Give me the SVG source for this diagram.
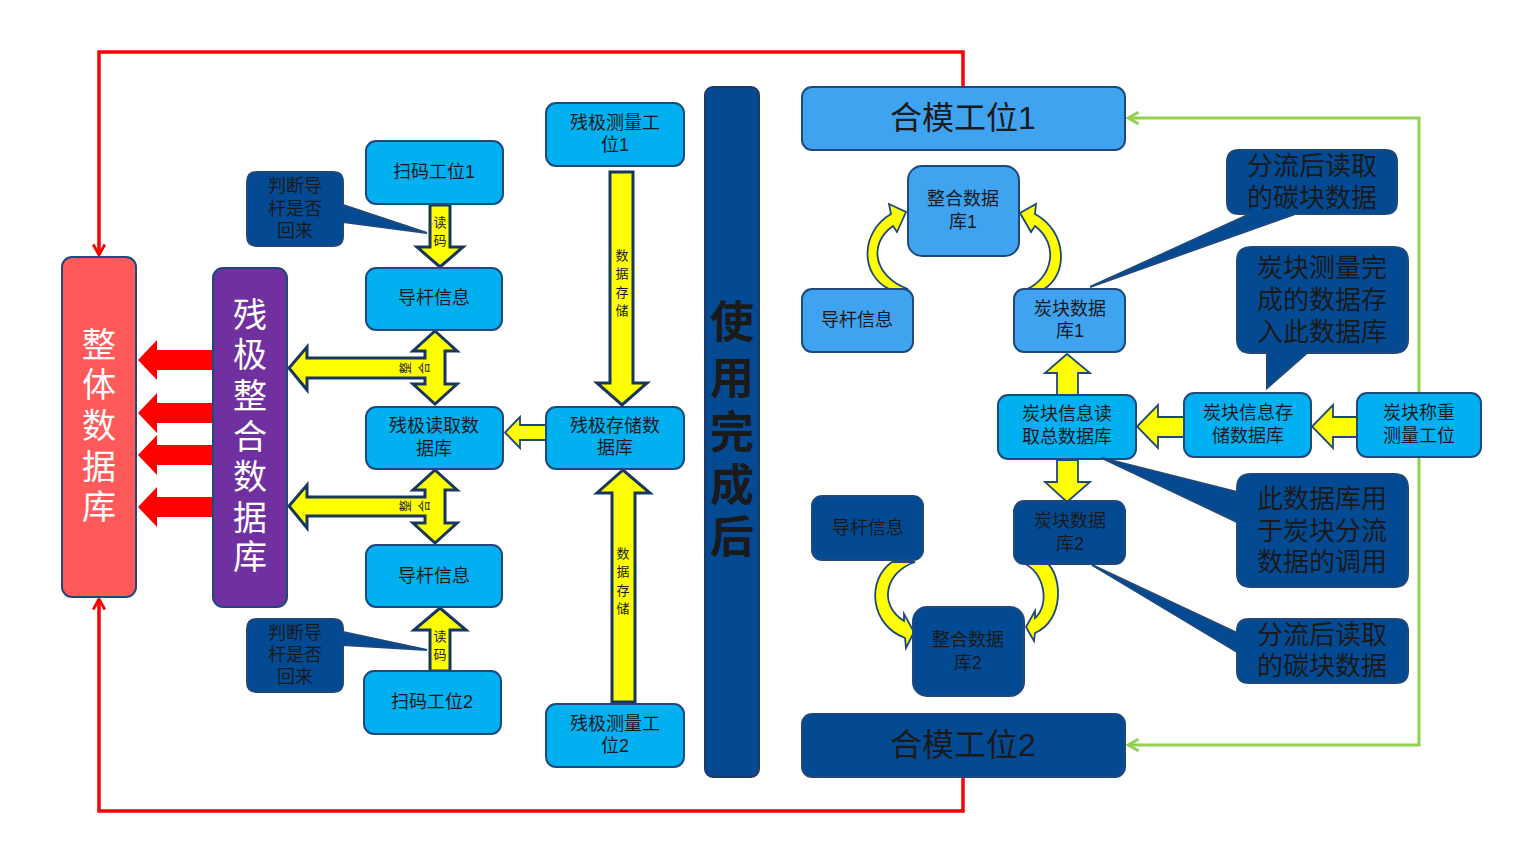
<svg xmlns="http://www.w3.org/2000/svg" width="1519" height="868" viewBox="0 0 1519 868">
<defs>
<style>
.t{font-family:"Liberation Sans","Noto Sans CJK SC",sans-serif;fill:#1a1a1a;text-anchor:middle;dominant-baseline:central}
.w{fill:#ffffff}
.s18{font-size:18px}
.s13{font-size:13px}
.s12{font-size:12px}
.s26{font-size:26px}
.s32{font-size:32px}
.s34{font-size:34px}
.n{stroke:#1F497D;stroke-width:2}
.cy{fill:#00B0F0}
.lb{fill:#3FA3F0}
.db{fill:#034A93}
.ya{fill:#FFFF00;stroke:#17375E;stroke-width:3;stroke-linejoin:miter}
.yt{fill:#FFFF00;stroke:#1F497D;stroke-width:1.8;stroke-linejoin:miter}
.ra{fill:#FF0000}
</style>
<marker id="arrRed" viewBox="0 0 12 12" refX="10.5" refY="6" markerWidth="14" markerHeight="14" orient="auto" markerUnits="userSpaceOnUse">
<path d="M1.5,1 L10.5,6 L1.5,11" fill="none" stroke="#FF0000" stroke-width="2.4"/>
</marker>
<marker id="arrGreen" viewBox="0 0 12 12" refX="10.5" refY="6" markerWidth="14" markerHeight="14" orient="auto" markerUnits="userSpaceOnUse">
<path d="M1.5,1 L10.5,6 L1.5,11" fill="none" stroke="#92D050" stroke-width="2.4"/>
</marker>
</defs>
<rect width="1519" height="868" fill="#ffffff"/>

<g id="connectors">
<path d="M963,87 V52 H99 V255" fill="none" stroke="#FF0000" stroke-width="3.5" marker-end="url(#arrRed)"/>
<path d="M963,777 V811 H99 V599" fill="none" stroke="#FF0000" stroke-width="3.5" marker-end="url(#arrRed)"/>
<path d="M1419,430 V118 H1128" fill="none" stroke="#92D050" stroke-width="3" marker-end="url(#arrGreen)"/>
<path d="M1419,430 V745 H1128" fill="none" stroke="#92D050" stroke-width="3" marker-end="url(#arrGreen)"/>

<polygon class="ra" points="213,350 157,350 157,340 138,360 157,380 157,370 213,370"/>
<polygon class="ra" points="213,403 157,403 157,393 138,413 157,433 157,423 213,423"/>
<polygon class="ra" points="213,445 157,445 157,435 138,455 157,475 157,465 213,465"/>
<polygon class="ra" points="213,497 157,497 157,487 138,507 157,527 157,517 213,517"/>

<polygon class="ya" points="430,205 450,205 450,247 463,247 440,267 417,247 430,247"/>
<text class="t s13" x="440" y="222">读</text>
<text class="t s13" x="440" y="240">码</text>
<polygon class="ya" points="430,671 450,671 450,630 466,630 440,608 414,630 430,630"/>
<text class="t s13" x="440" y="636">读</text>
<text class="t s13" x="440" y="654">码</text>

<polygon class="ya" points="435,331 457,351 445,351 445,384 457,384 435,404 413,384 425,384 425,378 307,378 307,390 289,368 307,347 307,358 425,358 425,351 413,351"/>
<text class="t s12" transform="rotate(-90 406 368)" x="406" y="368">整</text>
<text class="t s12" transform="rotate(-90 425 368)" x="425" y="368">合</text>
<polygon class="ya" points="435,470 457,490 445,490 445,523 457,523 435,543 413,523 425,523 425,516 307,516 307,528 289,506 307,485 307,497 425,497 425,490 413,490"/>
<text class="t s12" transform="rotate(-90 406 506)" x="406" y="506">整</text>
<text class="t s12" transform="rotate(-90 425 506)" x="425" y="506">合</text>

<polygon class="yt" points="546,425 520,425 520,417 505,432.5 520,448 520,440 546,440"/>

<polygon class="ya" points="610,172 633,172 633,383 647,383 622,405 597,383 610,383"/>
<text class="t s13" x="622" y="255">数</text>
<text class="t s13" x="622" y="273">据</text>
<text class="t s13" x="622" y="292">存</text>
<text class="t s13" x="622" y="310">储</text>
<polygon class="ya" points="612,702 635,702 635,493 650,493 623,470 597,493 612,493"/>
<text class="t s13" x="623" y="553">数</text>
<text class="t s13" x="623" y="571">据</text>
<text class="t s13" x="623" y="590">存</text>
<text class="t s13" x="623" y="608">储</text>

<polygon class="yt" points="1057,395 1078,395 1078,373 1090,373 1067,354 1045,373 1057,373"/>
<polygon class="yt" points="1057,460 1078,460 1078,482 1090,482 1067,502 1045,482 1057,482"/>
<polygon class="yt" points="1184,417 1158,417 1158,405 1137,426.5 1158,448 1158,437 1184,437"/>
<polygon class="yt" points="1357,417 1333,417 1333,405 1312,426.5 1333,448 1333,437 1357,437"/>

<path class="yt" d="M908,289 C876,278 866,245 893,226 L897,232 L906,212 L889,204 L891,214 C860,232 860,275 889,289 Z"/>
<path class="yt" d="M1027,289 C1052,278 1060,245 1035,226 L1031,232 L1020,213 L1036,204 L1035,214 C1068,232 1068,275 1044,289 Z"/>
<path class="yt" d="M915,562 C885,572 878,605 904,621 L904,614 L914,632 L906,648 L905,638 C870,625 866,580 892,562 Z"/>
<path class="yt" d="M1023,563 C1045,572 1050,605 1035,618 L1035,611 L1026,627 L1034,641 L1035,633 C1065,620 1062,575 1047,563 Z"/>
</g>

<g id="n-whole-db">
<rect x="62" y="257" width="74" height="340" rx="10" fill="#FF5A5A" stroke="#1F497D" stroke-width="2"/>
<text class="t w s34" x="99" y="345">整</text>
<text class="t w s34" x="99" y="385">体</text>
<text class="t w s34" x="99" y="426">数</text>
<text class="t w s34" x="99" y="467">据</text>
<text class="t w s34" x="99" y="507">库</text>
</g>

<g id="n-anode-db">
<rect x="213" y="268" width="74" height="339" rx="10" fill="#7030A0" stroke="#1F497D" stroke-width="2"/>
<text class="t w s34" x="250" y="315">残</text>
<text class="t w s34" x="250" y="355">极</text>
<text class="t w s34" x="250" y="396">整</text>
<text class="t w s34" x="250" y="437">合</text>
<text class="t w s34" x="250" y="477">数</text>
<text class="t w s34" x="250" y="518">据</text>
<text class="t w s34" x="250" y="557">库</text>
</g>

<g id="n-scan1">
<rect class="n cy" x="366" y="141" width="137" height="63" rx="10"/>
<text class="t s18" x="434" y="172">扫码工位1</text>
</g>
<g id="n-rod1">
<rect class="n cy" x="366" y="268" width="136" height="62" rx="10"/>
<text class="t s18" x="434" y="298">导杆信息</text>
</g>
<g id="n-read-db">
<rect class="n cy" x="366" y="407" width="137" height="62" rx="10"/>
<text class="t s18" x="434" y="426">残极读取数</text>
<text class="t s18" x="434" y="449">据库</text>
</g>
<g id="n-rod2">
<rect class="n cy" x="366" y="545" width="136" height="62" rx="10"/>
<text class="t s18" x="434" y="576">导杆信息</text>
</g>
<g id="n-scan2">
<rect class="n cy" x="364" y="671" width="137" height="63" rx="10"/>
<text class="t s18" x="432" y="702">扫码工位2</text>
</g>

<g id="n-callout-l1">
<path class="n db" d="M257,172 H333 Q343,172 343,182 V205 L427,233 L343,222 V236 Q343,246 333,246 H257 Q247,246 247,236 V182 Q247,172 257,172 Z"/>
<text class="t s18" x="295" y="186">判断导</text>
<text class="t s18" x="295" y="209">杆是否</text>
<text class="t s18" x="295" y="231">回来</text>
</g>
<g id="n-callout-l2">
<path class="n db" d="M257,619 H333 Q343,619 343,629 V632 L427,650 L343,645 V682 Q343,692 333,692 H257 Q247,692 247,682 V629 Q247,619 257,619 Z"/>
<text class="t s18" x="295" y="633">判断导</text>
<text class="t s18" x="295" y="655">杆是否</text>
<text class="t s18" x="295" y="677">回来</text>
</g>

<g id="n-measure1">
<rect class="n cy" x="546" y="103" width="138" height="63" rx="10"/>
<text class="t s18" x="615" y="123">残极测量工</text>
<text class="t s18" x="615" y="145">位1</text>
</g>
<g id="n-store-db">
<rect class="n cy" x="546" y="407" width="138" height="62" rx="10"/>
<text class="t s18" x="615" y="426">残极存储数</text>
<text class="t s18" x="615" y="448">据库</text>
</g>
<g id="n-measure2">
<rect class="n cy" x="546" y="704" width="138" height="63" rx="10"/>
<text class="t s18" x="615" y="724">残极测量工</text>
<text class="t s18" x="615" y="746">位2</text>
</g>

<g id="n-after-use">
<rect x="705" y="87" width="54" height="690" rx="8" fill="#034A93" stroke="#1F3864" stroke-width="2"/>
<text class="t" style="font-size:44px;font-weight:bold" x="732" y="322">使</text>
<text class="t" style="font-size:44px;font-weight:bold" x="732" y="378">用</text>
<text class="t" style="font-size:44px;font-weight:bold" x="732" y="432">完</text>
<text class="t" style="font-size:44px;font-weight:bold" x="732" y="485">成</text>
<text class="t" style="font-size:44px;font-weight:bold" x="732" y="537">后</text>
</g>

<g id="n-mold1">
<rect class="n lb" x="802" y="87" width="323" height="63" rx="10"/>
<text class="t s32" x="963" y="118">合模工位1</text>
</g>
<g id="n-merge1">
<rect class="n lb" x="908" y="166" width="111" height="90" rx="14"/>
<text class="t s18" x="963" y="199">整合数据</text>
<text class="t s18" x="963" y="222">库1</text>
</g>
<g id="n-rod-r1">
<rect class="n lb" x="802" y="289" width="111" height="63" rx="10"/>
<text class="t s18" x="857" y="320">导杆信息</text>
</g>
<g id="n-carbon1">
<rect class="n lb" x="1014" y="289" width="111" height="63" rx="10"/>
<text class="t s18" x="1070" y="309">炭块数据</text>
<text class="t s18" x="1070" y="331">库1</text>
</g>
<g id="n-carbon-read">
<rect class="n cy" x="998" y="395" width="138" height="64" rx="10"/>
<text class="t s18" x="1067" y="414">炭块信息读</text>
<text class="t s18" x="1067" y="437">取总数据库</text>
</g>
<g id="n-carbon-store">
<rect class="n cy" x="1184" y="393" width="127" height="64" rx="10"/>
<text class="t s18" x="1248" y="413">炭块信息存</text>
<text class="t s18" x="1248" y="436">储数据库</text>
</g>
<g id="n-carbon-weigh">
<rect class="n cy" x="1357" y="393" width="124" height="64" rx="10"/>
<text class="t s18" x="1419" y="413">炭块称重</text>
<text class="t s18" x="1419" y="436">测量工位</text>
</g>
<g id="n-carbon2">
<rect class="n db" x="1014" y="501" width="111" height="63" rx="10"/>
<text class="t s18" x="1070" y="521">炭块数据</text>
<text class="t s18" x="1070" y="544">库2</text>
</g>
<g id="n-rod-r2">
<rect class="n db" x="812" y="496" width="111" height="64" rx="10"/>
<text class="t s18" x="868" y="528">导杆信息</text>
</g>
<g id="n-merge2">
<rect class="n db" x="913" y="607" width="111" height="89" rx="14"/>
<text class="t s18" x="968" y="640">整合数据</text>
<text class="t s18" x="968" y="663">库2</text>
</g>
<g id="n-mold2">
<rect class="n db" x="802" y="714" width="323" height="63" rx="10"/>
<text class="t s32" x="963" y="745">合模工位2</text>
</g>

<g id="n-callout-r1">
<path class="n db" d="M1239,150 H1385 Q1397,150 1397,162 V202 Q1397,214 1385,214 H1295 L1090,287 L1250,214 H1239 Q1227,214 1227,202 V162 Q1227,150 1239,150 Z"/>
<text class="t s26" x="1312" y="166">分流后读取</text>
<text class="t s26" x="1312" y="198">的碳块数据</text>
</g>
<g id="n-callout-r2">
<path class="n db" d="M1251,247 H1394 Q1408,247 1408,261 V339 Q1408,353 1394,353 H1307 L1267,388 V353 H1251 Q1237,353 1237,339 V261 Q1237,247 1251,247 Z"/>
<text class="t s26" x="1322" y="268">炭块测量完</text>
<text class="t s26" x="1322" y="300">成的数据存</text>
<text class="t s26" x="1322" y="332">入此数据库</text>
</g>
<g id="n-callout-r3">
<path class="n db" d="M1251,474 H1394 Q1408,474 1408,488 V573 Q1408,587 1394,587 H1251 Q1237,587 1237,573 V522 L1102,458 L1237,492 V488 Q1237,474 1251,474 Z"/>
<text class="t s26" x="1322" y="499">此数据库用</text>
<text class="t s26" x="1322" y="531">于炭块分流</text>
<text class="t s26" x="1322" y="562">数据的调用</text>
</g>
<g id="n-callout-r4">
<path class="n db" d="M1249,619 H1396 Q1408,619 1408,631 V671 Q1408,683 1396,683 H1249 Q1237,683 1237,671 V652 L1092,565 L1237,633 V631 Q1237,619 1249,619 Z"/>
<text class="t s26" x="1322" y="635">分流后读取</text>
<text class="t s26" x="1322" y="666">的碳块数据</text>
</g>
</svg>
